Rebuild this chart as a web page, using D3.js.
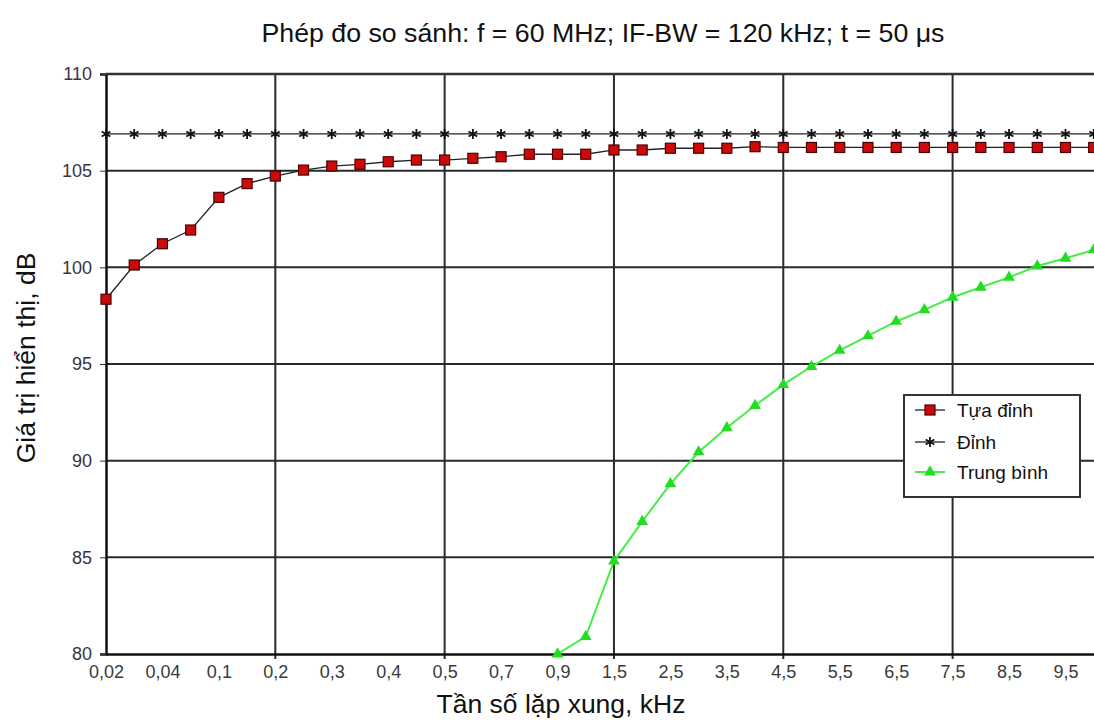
<!DOCTYPE html>
<html>
<head>
<meta charset="utf-8">
<script src="https://cdn.jsdelivr.net/npm/d3@7"></script>
<style>
    body { margin: 0; background: #fff; }
    svg { display: block; font-family: "Liberation Sans", Arial, sans-serif; }
</style>
</head>
<body>
<div class="chart"></div>
<script>
// pulse repetition frequency (kHz) - one category per measured point
var categories = ["0,02", "0,03", "0,04", "0,07", "0,1", "0,15", "0,2", "0,25", "0,3", "0,35",
    "0,4", "0,45", "0,5", "0,6", "0,7", "0,8", "0,9", "1", "1,5", "2",
    "2,5", "3", "3,5", "4", "4,5", "5", "5,5", "6", "6,5", "7",
    "7,5", "8", "8,5", "9", "9,5", "10"];

// only every second category gets a label
var tickLabels = ["0,02", "0,04", "0,1", "0,2", "0,3", "0,4", "0,5", "0,7", "0,9",
    "1,5", "2,5", "3,5", "4,5", "5,5", "6,5", "7,5", "8,5", "9,5"];

// vertical grid lines
var gridCategories = ["0,2", "0,5", "1,5", "4,5", "7,5"];

var yTicks = [80, 85, 90, 95, 100, 105, 110];

// Tựa đỉnh (quasi-peak)
var quasiPeak = [98.35, 100.12, 101.22, 101.93, 103.62, 104.33, 104.72, 105.03, 105.24, 105.33,
    105.46, 105.55, 105.55, 105.64, 105.72, 105.85, 105.85, 105.85, 106.07, 106.07,
    106.16, 106.16, 106.16, 106.24, 106.2, 106.2, 106.2, 106.2, 106.2, 106.2,
    106.2, 106.2, 106.2, 106.2, 106.2, 106.2];

// Đỉnh (peak)
var peak = [106.9, 106.9, 106.9, 106.9, 106.9, 106.9, 106.9, 106.9, 106.9, 106.9,
    106.9, 106.9, 106.9, 106.9, 106.9, 106.9, 106.9, 106.9, 106.9, 106.9,
    106.9, 106.9, 106.9, 106.9, 106.9, 106.9, 106.9, 106.9, 106.9, 106.9,
    106.9, 106.9, 106.9, 106.9, 106.9, 106.9];

// Trung bình (average) - below the axis for the low frequencies
var average = [null, null, null, null, null, null, null, null, null, null,
    null, null, null, null, null, null, 80.0, 80.9, 84.8, 86.85,
    88.8, 90.45, 91.7, 92.85, 93.93, 94.87, 95.7, 96.45, 97.2, 97.8,
    98.45, 98.97, 99.48, 100.07, 100.47, 100.9];

var seriesNames = ["Tựa đỉnh", "Đỉnh", "Trung bình"];

var svgWidth = 1094;
var svgHeight = 721;

var margin = { top: 74, left: 106 };
var width = 987.7;
var height = 580;

var svg = d3.select(".chart")
    .append("svg")
    .attr("width", svgWidth)
    .attr("height", svgHeight);

var chartGroup = svg.append("g")
    .attr("transform", `translate(${margin.left}, ${margin.top})`);

// scales
var xScale = d3.scalePoint()
    .domain(categories)
    .range([0, width]);

var yScale = d3.scaleLinear()
    .domain([80, 110])
    .range([height, 0]);

// horizontal grid lines
chartGroup.append("g")
    .selectAll("line")
    .data(yTicks.slice(1))
    .enter()
    .append("line")
    .attr("x1", 0)
    .attr("x2", svgWidth)
    .attr("y1", d => yScale(d))
    .attr("y2", d => yScale(d))
    .attr("stroke", "#2a2a2a")
    .attr("stroke-width", 2);

// vertical grid lines
chartGroup.append("g")
    .selectAll("line")
    .data(gridCategories)
    .enter()
    .append("line")
    .attr("x1", d => xScale(d))
    .attr("x2", d => xScale(d))
    .attr("y1", 0)
    .attr("y2", height + 5)
    .attr("stroke", "#2a2a2a")
    .attr("stroke-width", 2);

// y axis
var leftAxis = d3.axisLeft(yScale)
    .tickValues(yTicks)
    .tickSize(6)
    .tickPadding(8)
    .tickFormat(d => d);

var yAxisGroup = chartGroup.append("g").call(leftAxis);
yAxisGroup.select(".domain").attr("stroke", "#111").attr("stroke-width", 2.5);
yAxisGroup.selectAll(".tick line").attr("stroke", "#333");
yAxisGroup.selectAll(".tick text")
    .attr("font-size", 18)
    .attr("font-family", "Liberation Sans, Arial, sans-serif")
    .attr("fill", "#3a3340");

// x axis
var bottomAxis = d3.axisBottom(xScale)
    .tickValues(tickLabels)
    .tickSize(0)
    .tickPadding(11);

var xAxisGroup = chartGroup.append("g")
    .attr("transform", `translate(0, ${height})`)
    .call(bottomAxis);
xAxisGroup.select(".domain").attr("stroke", "#111").attr("stroke-width", 2.5);
xAxisGroup.selectAll(".tick text")
    .attr("font-size", 18)
    .attr("font-family", "Liberation Sans, Arial, sans-serif")
    .attr("fill", "#3a3a3a");

// line generators
var line = d3.line()
    .defined(d => d.v !== null)
    .x(d => xScale(d.c))
    .y(d => yScale(d.v));

function toPoints(values) {
    return values.map((v, i) => ({ c: categories[i], v: v }));
}

var qpData = toPoints(quasiPeak);
var pkData = toPoints(peak);
var avData = toPoints(average).filter(d => d.v !== null);

// peak line + asterisks
chartGroup.append("path")
    .datum(pkData)
    .attr("d", line)
    .attr("fill", "none")
    .attr("stroke", "#222")
    .attr("stroke-width", 1.3);

var star = d3.symbol().type(d3.symbolAsterisk).size(70);
chartGroup.append("g")
    .selectAll("path")
    .data(pkData)
    .enter()
    .append("path")
    .attr("transform", d => `translate(${xScale(d.c)}, ${yScale(d.v)})`)
    .attr("d", star)
    .attr("fill", "none")
    .attr("stroke", "#111")
    .attr("stroke-width", 1.8);

// quasi-peak line + squares
chartGroup.append("path")
    .datum(qpData)
    .attr("d", line)
    .attr("fill", "none")
    .attr("stroke", "#222")
    .attr("stroke-width", 1.3);

chartGroup.append("g")
    .selectAll("rect")
    .data(qpData)
    .enter()
    .append("rect")
    .attr("x", d => xScale(d.c) - 5)
    .attr("y", d => yScale(d.v) - 5)
    .attr("width", 10)
    .attr("height", 10)
    .attr("fill", "#cc0a0a")
    .attr("stroke", "#4a0000")
    .attr("stroke-width", 1.2);

// average line + triangles
chartGroup.append("path")
    .datum(avData)
    .attr("d", line)
    .attr("fill", "none")
    .attr("stroke", "#44ee44")
    .attr("stroke-width", 2);

var tri = d3.symbol().type(d3.symbolTriangle).size(60);
chartGroup.append("g")
    .selectAll("path")
    .data(avData)
    .enter()
    .append("path")
    .attr("transform", d => `translate(${xScale(d.c)}, ${yScale(d.v)})`)
    .attr("d", tri)
    .attr("fill", "#22dd22");

// top border of the plot area
chartGroup.append("line")
    .attr("x1", 0)
    .attr("x2", svgWidth)
    .attr("y1", 0)
    .attr("y2", 0)
    .attr("stroke", "#333")
    .attr("stroke-width", 2.5);

// legend
var legend = svg.append("g")
    .attr("transform", "translate(904, 395)");

legend.append("rect")
    .attr("width", 176)
    .attr("height", 102)
    .attr("fill", "#fff")
    .attr("stroke", "#333")
    .attr("stroke-width", 2);

var legendRows = legend.selectAll(".row")
    .data(seriesNames)
    .enter()
    .append("g")
    .attr("class", "row")
    .attr("transform", (d, i) => `translate(0, ${[15, 47, 77][i]})`);

legendRows.append("line")
    .attr("x1", 11)
    .attr("x2", 41)
    .attr("stroke", (d, i) => i === 2 ? "#44ee44" : "#222")
    .attr("stroke-width", (d, i) => i === 2 ? 2 : 1.3);

legendRows.each(function (d, i) {
    var g = d3.select(this);
    if (i === 0) {
        g.append("rect").attr("x", 21).attr("y", -5).attr("width", 10).attr("height", 10)
            .attr("fill", "#cc0a0a").attr("stroke", "#4a0000").attr("stroke-width", 1.2);
    } else if (i === 1) {
        g.append("path").attr("transform", "translate(26,0)").attr("d", star)
            .attr("fill", "none").attr("stroke", "#111").attr("stroke-width", 1.8);
    } else {
        g.append("path").attr("transform", "translate(26,0)").attr("d", tri)
            .attr("fill", "#22dd22");
    }
});

legendRows.append("text")
    .attr("x", 53)
    .attr("y", 7)
    .attr("font-size", 19)
    .attr("fill", "#111")
    .text(d => d);

// titles
svg.append("text")
    .attr("x", 603)
    .attr("y", 42)
    .attr("text-anchor", "middle")
    .attr("font-size", 25)
    .attr("textLength", 683)
    .attr("lengthAdjust", "spacingAndGlyphs")
    .attr("fill", "#111")
    .text("Phép đo so sánh: f = 60 MHz; IF-BW = 120 kHz; t = 50 μs");

svg.append("text")
    .attr("transform", "translate(561, 713)")
    .attr("text-anchor", "middle")
    .attr("font-size", 26.5)
    .attr("fill", "#111")
    .text("Tần số lặp xung, kHz");

svg.append("text")
    .attr("transform", "translate(35, 358) rotate(-90)")
    .attr("text-anchor", "middle")
    .attr("font-size", 26.5)
    .attr("fill", "#111")
    .text("Giá trị hiển thị, dB");
</script>
</body>
</html>
